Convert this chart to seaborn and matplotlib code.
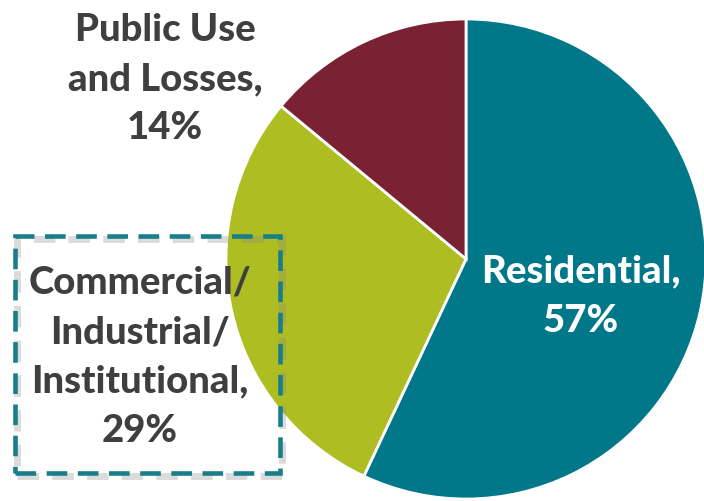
import matplotlib
matplotlib.use("Agg")
import matplotlib.pyplot as plt
import matplotlib.patches as mpatches
import seaborn as sns

categories = ["Residential", "Commercial/\nIndustrial/\nInstitutional", "Public Use\nand Losses"]
values = [57, 29, 14]
colors = ["#00788A", "#AEBD22", "#7A2233"]

sns.set_theme(style="white")
plt.rcParams['font.family'] = ['Lato', 'DejaVu Sans']

W, H = 704, 501
fig = plt.figure(figsize=(W / 100, H / 100), dpi=100)
ax = fig.add_axes([0, 0, 1, 1])

cx, cy, r = 466, H - 259, 240
ax.pie(values, colors=colors, startangle=90, counterclock=False,
       center=(cx, cy), radius=r,
       wedgeprops=dict(edgecolor="white", linewidth=2))

ax.set_xlim(0, W)
ax.set_ylim(0, H)
ax.set_aspect("equal")
ax.axis("off")

txt = "#3F3F3F"
fs = 27.5
ls = 1.55
ax.text(581, H - 296, f"Residential,\n{values[0]}%", ha="center", va="center",
        color="white", fontsize=fs, fontweight="black", linespacing=ls, zorder=6)
ax.text(165, H - 79, f"Public Use\nand Losses,\n{values[2]}%", ha="center", va="center",
        color=txt, fontsize=fs, fontweight="black", linespacing=ls, zorder=6)
ax.text(140, H - 357, "Commercial/\nIndustrial/\nInstitutional,\n" + f"{values[1]}%",
        ha="center", va="center", color=txt, fontsize=fs, fontweight="black", linespacing=ls,
        zorder=6)

shadow = mpatches.Rectangle((17, H - 476), 265, 237, fill=False, edgecolor="#888888",
                            linewidth=5, linestyle=(0, (3.1, 1.9)), alpha=0.3, zorder=4)
ax.add_patch(shadow)
rect = mpatches.Rectangle((15, H - 473), 265, 237, fill=False, edgecolor="#1A7D8A",
                          linewidth=3.3, linestyle=(0, (4.5, 2.3)), zorder=5)
ax.add_patch(rect)

fig.savefig("out.png", dpi=100)
